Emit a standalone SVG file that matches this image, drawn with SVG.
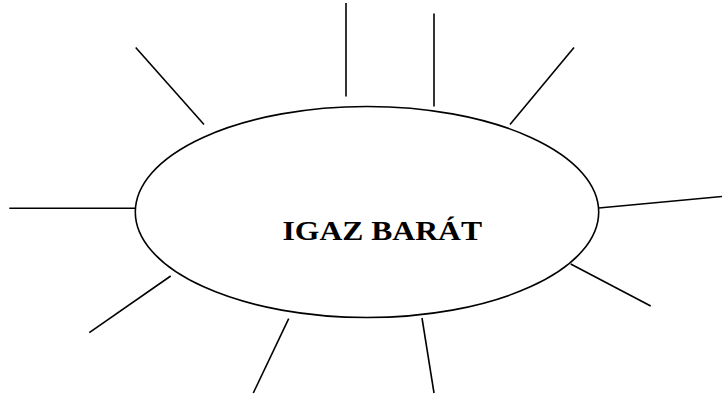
<svg xmlns="http://www.w3.org/2000/svg" width="722" height="394" viewBox="0 0 722 394">
<style>
.ray{stroke:#000;stroke-width:1.6;fill:none}
.node{stroke:#000;stroke-width:1.6;fill:#fff}
.lbl{font-family:"Liberation Serif","Times New Roman",serif;font-weight:bold;font-size:28px;fill:#000}
</style>
<rect width="722" height="394" fill="#fff"/>
<g id="connectors">
<line class="ray" x1="346" y1="3" x2="346" y2="96.5"/>
<line class="ray" x1="434" y1="13.5" x2="434" y2="106.5"/>
<line class="ray" x1="574" y1="47.5" x2="510" y2="124.5"/>
<line class="ray" x1="135.7" y1="47.5" x2="204" y2="124.5"/>
<line class="ray" x1="9.3" y1="208.3" x2="135.3" y2="208.3"/>
<line class="ray" x1="598.7" y1="208" x2="722" y2="196.5"/>
<line class="ray" x1="570.7" y1="264" x2="650.7" y2="306"/>
<line class="ray" x1="170.7" y1="276" x2="89.3" y2="332.7"/>
<line class="ray" x1="288.7" y1="318.7" x2="253.3" y2="393"/>
<line class="ray" x1="422" y1="318" x2="434" y2="393"/>
</g>
<g id="node-igaz-barat">
<ellipse class="node" cx="367" cy="212" rx="231.7" ry="105.5"/>
<text class="lbl" x="282.5" y="239.5" textLength="199.5" lengthAdjust="spacingAndGlyphs">IGAZ BARÁT</text>
</g>
</svg>
